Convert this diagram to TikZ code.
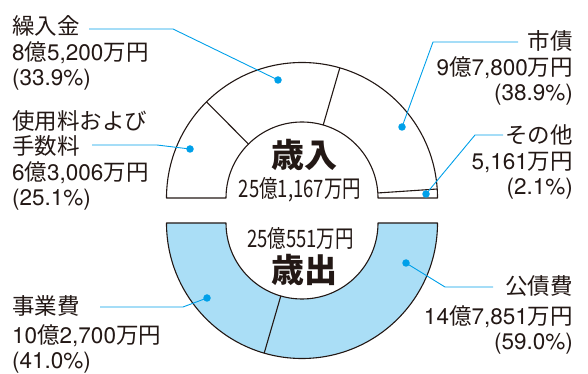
\documentclass[tikz,border=0pt]{standalone}
\usepackage{fontspec}
\setmainfont{TeX Gyre Heros}
\newfontfamily\jpfont{Noto Sans CJK JP}
\newcommand{\jtext}[1]{{\jpfont #1}}
\usetikzlibrary{positioning,calc}

\definecolor{ink}{RGB}{35,24,21}
\definecolor{leadblue}{RGB}{0,160,233}
\definecolor{skyfill}{RGB}{170,222,246}

\tikzset{
  ring/.style={draw=ink, line width=1.1pt, line join=round},
  lead/.style={draw=leadblue, line width=0.9pt},
  dot/.style={circle, fill=leadblue, inner sep=0pt, minimum size=7.5pt},
  lbl/.style={inner sep=0pt, text=ink, font=\fontsize{22.5}{25.5}\selectfont},
  ttl/.style={inner sep=0pt, text=ink, font=\jpfont\fontsize{33}{36}\selectfont\bfseries},
  total/.style={inner sep=0pt, text=ink, font=\jpfont\fontsize{24}{26}\selectfont}
}

\begin{document}
\begin{tikzpicture}[x=1pt,y=1pt]
    \useasboundingbox (0,0) rectangle (588,374);
    \def\R{135.5}
    \def\r{76}
    \coordinate (U) at (302,176);
    \coordinate (L) at (302,151);

    % Revenue half ring
    \draw[ring] ([shift={(180:\R)}]U) arc[start angle=180, end angle=0, radius=\R]
        -- ([shift={(0:\r)}]U) arc[start angle=0, end angle=180, radius=\r] -- cycle;
    \foreach \a in {134.8, 73.8, 3.8}
        \draw[ring] ([shift={(\a:\r)}]U) -- ([shift={(\a:\R)}]U);

    % Expenditure half ring
    \draw[ring, fill=skyfill] ([shift={(180:\R)}]L) arc[start angle=180, end angle=360, radius=\R]
        -- ([shift={(0:\r)}]L) arc[start angle=360, end angle=180, radius=\r] -- cycle;
    \draw[ring] ([shift={(253.8:\r)}]L) -- ([shift={(253.8:\R)}]L);

    % Centre texts
    \node[ttl] (sainyu) at (304,219) {歳入};
    \node[total] (sainyuSum) at (300,184) {\scalebox{0.77}[1]{25億1,167万円}};
    \node[total] (saishutsuSum) at (300.5,136) {\scalebox{0.77}[1]{25億551万円}};
    \node[ttl] (saishutsu) at (304,104) {歳出};

    % Item labels (base = last line)
    \node[lbl, align=left, anchor=base west] (kuri) at (12,288)
        {\jtext{繰入金}\\8\jtext{億}5,200\jtext{万円}\\(33.9\%)};
    \node[lbl, align=left, anchor=base west] (shiyo) at (12,168)
        {\jtext{使用料および}\\\jtext{手数料}\\6\jtext{億}3,006\jtext{万円}\\(25.1\%)};
    \node[lbl, align=left, anchor=base west] (jigyo) at (12,5)
        {\jtext{事業費}\\[3pt]10\jtext{億}2,700\jtext{万円}\\(41.0\%)};
    \node[lbl, align=right, anchor=base east] (shisai) at (573,273)
        {\jtext{市債}\\9\jtext{億}7,800\jtext{万円}\\(38.9\%)};
    \node[lbl, align=right, anchor=base east] (sonota) at (573,179)
        {\jtext{その他}\\5,161\jtext{万円}\\(2.1\%)};
    \node[lbl, align=right, anchor=base east] (kosai) at (573,24)
        {\jtext{公債費}\\[4pt]14\jtext{億}7,851\jtext{万円}\\(59.0\%)};

    % Leaders
    \foreach \n/\dx/\dy/\sx/\sy/\ex in {kuri/278/294/89/345/173, shiyo/190/225/92/229/157,
        shisai/402/247/518/332/433, sonota/426/180/503/239/475,
        jigyo/207/76/100/67/183, kosai/406/111/493/87/445}{
        \coordinate (\n S) at (\sx,\sy);
        \node[dot] (\n D) at (\dx,\dy) {};
        \draw[lead] (\n S) -- (\ex,\sy) -- (\n D.center);
    }
\end{tikzpicture}
\end{document}
